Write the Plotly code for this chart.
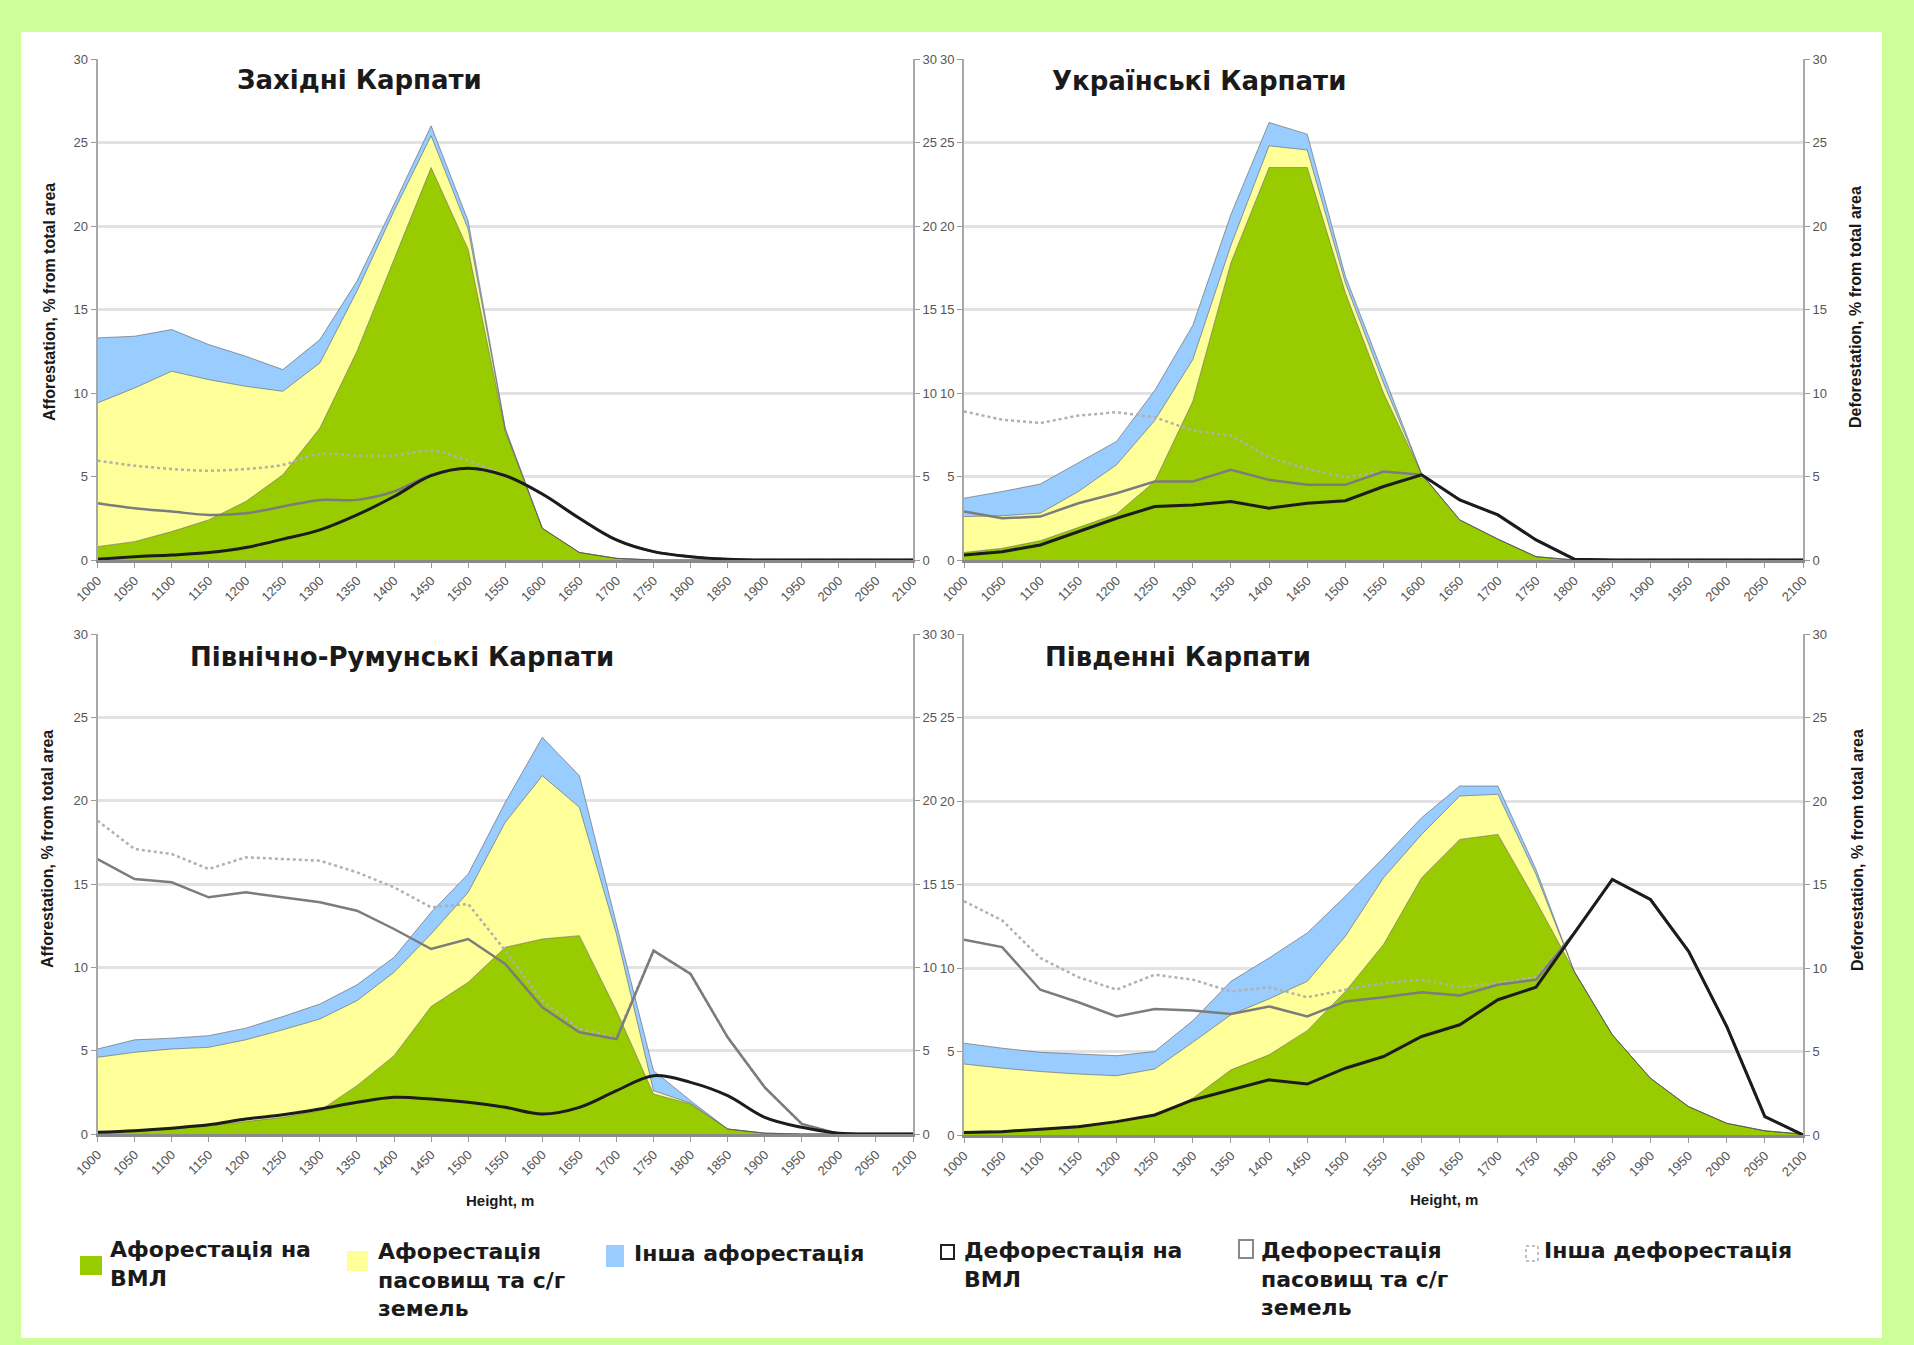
import plotly.graph_objects as go

W, H = 1914, 1345

# ---------------- data ----------------
heights = [1000, 1050, 1100, 1150, 1200, 1250, 1300, 1350, 1400, 1450, 1500, 1550,
           1600, 1650, 1700, 1750, 1800, 1850, 1900, 1950, 2000, 2050, 2100]
tick_labels = [str(h) for h in heights]

panel_titles = ["Західні Карпати", "Українські Карпати",
                "Північно-Румунські Карпати", "Південні Карпати"]

series_names = ["Афорестація на ВМЛ", "Афорестація пасовищ та с/г земель", "Інша афорестація",
                "Дефорестація на ВМЛ", "Дефорестація пасовищ та с/г земель", "Інша дефорестація"]

# cumulative tops of the stacked afforestation areas
# Західні Карпати
aff_vml_1 = [0.8, 1.1, 1.7, 2.4, 3.5, 5.1, 7.9, 12.5, 18.0, 23.5, 18.6, 7.7, 1.9, 0.45, 0.1, 0, 0, 0, 0, 0, 0, 0, 0]
aff_past_1 = [9.4, 10.3, 11.3, 10.8, 10.4, 10.1, 11.8, 16.1, 20.9, 25.4, 19.8, 7.8, 1.9, 0.45, 0.1, 0, 0, 0, 0, 0, 0, 0, 0]
aff_other_1 = [13.3, 13.4, 13.8, 12.9, 12.2, 11.4, 13.2, 16.7, 21.3, 26.0, 20.3, 7.9, 1.9, 0.45, 0.1, 0, 0, 0, 0, 0, 0, 0, 0]
def_vml_1 = [0.05, 0.2, 0.3, 0.45, 0.75, 1.25, 1.8, 2.7, 3.8, 5.05, 5.5, 5.05, 3.95, 2.5, 1.2, 0.5, 0.2, 0.05, 0, 0, 0, 0, 0]
def_past_1 = [3.4, 3.1, 2.9, 2.7, 2.8, 3.2, 3.6, 3.6, 4.1, 5.1, 5.5, 5.05, 3.95, 2.5, 1.2, 0.5, 0.2, 0.05, 0, 0, 0, 0, 0]
def_other_1 = [5.95, 5.65, 5.45, 5.35, 5.45, 5.7, 6.35, 6.25, 6.25, 6.55, 5.95, 5.05, 3.95, 2.5, 1.2, 0.5, 0.2, 0.05, 0, 0, 0, 0, 0]

# Українські Карпати
aff_vml_2 = [0.45, 0.7, 1.15, 1.95, 2.75, 4.7, 9.5, 17.8, 23.5, 23.5, 16.0, 10.0, 5.15, 2.4, 1.25, 0.2, 0, 0, 0, 0, 0, 0, 0]
aff_past_2 = [2.6, 2.65, 2.8, 4.1, 5.7, 8.35, 12.0, 18.85, 24.8, 24.55, 16.6, 10.6, 5.15, 2.4, 1.25, 0.2, 0, 0, 0, 0, 0, 0, 0]
aff_other_2 = [3.7, 4.1, 4.55, 5.8, 7.1, 10.15, 14.05, 20.7, 26.2, 25.5, 17.0, 11.1, 5.15, 2.4, 1.25, 0.2, 0, 0, 0, 0, 0, 0, 0]
def_vml_2 = [0.3, 0.5, 0.9, 1.7, 2.5, 3.2, 3.3, 3.5, 3.1, 3.4, 3.55, 4.4, 5.1, 3.6, 2.7, 1.2, 0.05, 0, 0, 0, 0, 0, 0]
def_past_2 = [2.9, 2.5, 2.6, 3.4, 4.0, 4.7, 4.7, 5.4, 4.8, 4.5, 4.5, 5.3, 5.1, 3.6, 2.7, 1.2, 0.05, 0, 0, 0, 0, 0, 0]
def_other_2 = [8.9, 8.4, 8.2, 8.65, 8.85, 8.55, 7.75, 7.45, 6.15, 5.45, 4.95, 5.3, 5.1, 3.6, 2.7, 1.2, 0.05, 0, 0, 0, 0, 0, 0]

# Північно-Румунські Карпати
aff_vml_3 = [0.1, 0.15, 0.3, 0.5, 0.75, 1.0, 1.4, 2.9, 4.7, 7.65, 9.1, 11.2, 11.7, 11.9, 7.4, 2.4, 1.8, 0.3, 0.05, 0, 0, 0, 0]
aff_past_3 = [4.6, 4.9, 5.1, 5.2, 5.65, 6.25, 6.9, 8.0, 9.7, 12.0, 14.5, 18.7, 21.5, 19.6, 12.0, 2.6, 1.85, 0.3, 0.05, 0, 0, 0, 0]
aff_other_3 = [5.1, 5.65, 5.75, 5.9, 6.35, 7.05, 7.8, 8.95, 10.6, 13.3, 15.6, 19.9, 23.8, 21.5, 12.6, 3.8, 2.0, 0.3, 0.05, 0, 0, 0, 0]
def_vml_3 = [0.1, 0.2, 0.35, 0.55, 0.9, 1.15, 1.5, 1.9, 2.2, 2.1, 1.9, 1.6, 1.2, 1.6, 2.6, 3.5, 3.1, 2.3, 1.0, 0.4, 0.05, 0, 0]
def_past_3 = [16.5, 15.3, 15.1, 14.2, 14.5, 14.2, 13.9, 13.4, 12.3, 11.1, 11.7, 10.2, 7.6, 6.1, 5.7, 11.0, 9.6, 5.8, 2.8, 0.6, 0, 0, 0]
def_other_3 = [18.8, 17.1, 16.8, 15.9, 16.6, 16.5, 16.4, 15.7, 14.8, 13.6, 13.8, 11.0, 8.0, 6.3, 5.8, 11.0, 9.6, 5.8, 2.8, 0.6, 0, 0, 0]

# Південні Карпати
aff_vml_4 = [0.2, 0.25, 0.35, 0.55, 0.8, 1.2, 2.2, 3.9, 4.8, 6.25, 8.6, 11.4, 15.4, 17.7, 18.0, 14.0, 9.8, 6.0, 3.4, 1.7, 0.7, 0.25, 0.05]
aff_past_4 = [4.25, 4.0, 3.8, 3.65, 3.55, 3.95, 5.55, 7.2, 8.15, 9.2, 11.9, 15.4, 18.0, 20.3, 20.4, 15.6, 9.8, 6.0, 3.4, 1.7, 0.7, 0.25, 0.05]
aff_other_4 = [5.5, 5.2, 4.95, 4.85, 4.75, 5.0, 6.85, 9.2, 10.6, 12.1, 14.3, 16.6, 19.0, 20.9, 20.9, 15.9, 9.8, 6.0, 3.4, 1.7, 0.7, 0.25, 0.05]
def_vml_4 = [0.15, 0.2, 0.35, 0.5, 0.8, 1.2, 2.1, 2.7, 3.3, 3.05, 4.0, 4.7, 5.9, 6.6, 8.1, 8.85, 12.1, 15.3, 14.1, 11.0, 6.5, 1.1, 0]
def_past_4 = [11.7, 11.25, 8.7, 7.95, 7.1, 7.55, 7.45, 7.25, 7.7, 7.1, 8.0, 8.25, 8.55, 8.35, 9.0, 9.3, 12.1, 15.3, 14.1, 11.0, 6.5, 1.1, 0]
def_other_4 = [14.0, 12.85, 10.6, 9.45, 8.7, 9.6, 9.3, 8.6, 8.85, 8.25, 8.7, 9.1, 9.3, 8.85, 9.1, 9.45, 12.1, 15.3, 14.1, 11.0, 6.5, 1.1, 0]

# ---------------- styling ----------------
C_GREEN = "#99cc00"
C_YELLOW = "#ffff99"
C_BLUE = "#99ccff"
C_BLACK = "#1c1c1c"
C_GRAY = "#7c7c7c"
C_DOT = "#b0b0b0"
BORDER = "rgba(80,80,80,0.55)"

TICK_FONT = dict(family="Liberation Sans, Arial, sans-serif", size=13, color="#555555")
TITLE_FONT = dict(family="DejaVu Sans, sans-serif", size=26, color="#1a1a1a")
LEG_FONT = dict(family="DejaVu Sans, sans-serif", size=22, color="#1a1a1a")
AX_FONT = dict(family="Liberation Sans, Arial, sans-serif", size=16, color="#1a1a1a")


def px(x):
    return x / W


def py(y):
    return 1 - y / H


panels = [
    dict(x0=97.5, x1=913, top=59, bot=560, title_xy=(359, 80), spline=True,
         data=(aff_vml_1, aff_past_1, aff_other_1, def_vml_1, def_past_1, def_other_1)),
    dict(x0=964, x1=1803, top=59, bot=560, title_xy=(1199, 81), spline=False,
         data=(aff_vml_2, aff_past_2, aff_other_2, def_vml_2, def_past_2, def_other_2)),
    dict(x0=97.5, x1=913, top=634, bot=1134, title_xy=(402, 657), spline=False,
         data=(aff_vml_3, aff_past_3, aff_other_3, def_vml_3, def_past_3, def_other_3)),
    dict(x0=964, x1=1803, top=634, bot=1135, title_xy=(1178, 657), spline=False,
         data=(aff_vml_4, aff_past_4, aff_other_4, def_vml_4, def_past_4, def_other_4)),
]

fig = go.Figure()
layout = dict(
    width=W, height=H, autosize=False,
    margin=dict(l=0, r=0, t=0, b=0, pad=0, autoexpand=False),
    paper_bgcolor="#ccff99", plot_bgcolor="rgba(0,0,0,0)",
    showlegend=False, shapes=[], annotations=[],
)

# white card behind the charts
layout["shapes"].append(dict(type="rect", xref="paper", yref="paper",
                             x0=px(21), x1=px(1882), y0=py(1338), y1=py(32),
                             fillcolor="white", line=dict(width=0), layer="below"))

for k, p in enumerate(panels, start=1):
    xa = "x" if k == 1 else f"x{k}"
    yl_n = 2 * k - 1
    yr_n = 2 * k
    yl = "y" if yl_n == 1 else f"y{yl_n}"
    yr = f"y{yr_n}"
    g, yel, b, dv, dp, do = p["data"]

    fig.add_trace(go.Scatter(x=heights, y=g, xaxis=xa, yaxis=yl, mode="lines", fill="tozeroy",
                             fillcolor=C_GREEN, line=dict(color=BORDER, width=1),
                             name=series_names[0], hoverinfo="skip"))
    fig.add_trace(go.Scatter(x=heights, y=yel, xaxis=xa, yaxis=yl, mode="lines", fill="tonexty",
                             fillcolor=C_YELLOW, line=dict(color=BORDER, width=1),
                             name=series_names[1], hoverinfo="skip"))
    fig.add_trace(go.Scatter(x=heights, y=b, xaxis=xa, yaxis=yl, mode="lines", fill="tonexty",
                             fillcolor=C_BLUE, line=dict(color=BORDER, width=1),
                             name=series_names[2], hoverinfo="skip"))
    shape = "spline" if p["spline"] else "linear"
    fig.add_trace(go.Scatter(x=heights, y=do, xaxis=xa, yaxis=yr, mode="lines",
                             line=dict(color=C_DOT, width=2.5, dash="dot", shape=shape),
                             name=series_names[5]))
    fig.add_trace(go.Scatter(x=heights, y=dp, xaxis=xa, yaxis=yr, mode="lines",
                             line=dict(color=C_GRAY, width=2.5, shape=shape),
                             name=series_names[4]))
    fig.add_trace(go.Scatter(x=heights, y=dv, xaxis=xa, yaxis=yr, mode="lines",
                             line=dict(color=C_BLACK, width=3,
                                       shape="spline" if (p["spline"] or k == 3) else "linear"),
                             name=series_names[3]))

    xkey = "xaxis" if k == 1 else f"xaxis{k}"
    ylkey = "yaxis" if yl_n == 1 else f"yaxis{yl_n}"
    yrkey = f"yaxis{yr_n}"
    layout[xkey] = dict(domain=[px(p["x0"]), px(p["x1"])], anchor=yl, range=[1000, 2100],
                        tickmode="array", tickvals=heights, ticktext=tick_labels, tickangle=-45,
                        tickfont=TICK_FONT, ticks="outside", ticklen=5, tickcolor="#9a9a9a",
                        showline=True, linecolor="#8a8a8a", linewidth=3, automargin=False,
                        showgrid=False, zeroline=False, fixedrange=True)
    layout[ylkey] = dict(domain=[py(p["bot"]), py(p["top"])], anchor=xa, range=[0, 30],
                         tickmode="array", tickvals=[0, 5, 10, 15, 20, 25, 30],
                         tickfont=TICK_FONT, ticks="outside", ticklen=5, tickcolor="#9a9a9a",
                         showline=True, linecolor="#a8a8a8", linewidth=2, automargin=False,
                         showgrid=True, gridcolor="#e2e2e2", gridwidth=2.5, zeroline=False)
    layout[yrkey] = dict(overlaying=yl, side="right", anchor=xa, range=[0, 30],
                         tickmode="array", tickvals=[0, 5, 10, 15, 20, 25, 30],
                         tickfont=TICK_FONT, ticks="outside", ticklen=5, tickcolor="#9a9a9a",
                         showline=True, linecolor="#a8a8a8", linewidth=2, automargin=False,
                         showgrid=False, zeroline=False)

    tx, ty = p["title_xy"]
    layout["annotations"].append(dict(text=f"<b>{panel_titles[k-1]}</b>", xref="paper", yref="paper",
                                      x=px(tx), y=py(ty), xanchor="center", yanchor="middle",
                                      showarrow=False, font=TITLE_FONT))

# axis titles
for (x, y, ang, txt) in [(49, 302, -90, "Afforestation, % from total area"),
                         (47, 849, -90, "Afforestation, % from total area"),
                         (1855, 307, -90, "Deforestation, % from total area"),
                         (1857, 850, -90, "Deforestation, % from total area")]:
    layout["annotations"].append(dict(text=f"<b>{txt}</b>", xref="paper", yref="paper",
                                      x=px(x), y=py(y), xanchor="center", yanchor="middle",
                                      textangle=ang, showarrow=False, font=AX_FONT))
for (x, y) in [(500, 1200), (1444, 1199)]:
    layout["annotations"].append(dict(text="<b>Height, m</b>", xref="paper", yref="paper",
                                      x=px(x), y=py(y), xanchor="center", yanchor="middle",
                                      showarrow=False,
                                      font=dict(family="Liberation Sans, Arial, sans-serif",
                                                size=15, color="#1a1a1a")))

# legend (manual)
legend_items = [
    # swatch box (x0, y0, x1, y1), fill, outline, dash, text x, text top, text
    ((81, 1257, 101, 1274), C_GREEN, C_GREEN, "solid", 108, 1235, "Афорестація на<br>ВМЛ"),
    ((348, 1252, 367, 1270), C_YELLOW, C_YELLOW, "solid", 376, 1237, "Афорестація<br>пасовищ та с/г<br>земель"),
    ((607, 1246, 623, 1266), C_BLUE, C_BLUE, "solid", 632, 1239, "Інша афорестація"),
    ((941, 1245, 954, 1259), "white", "#222222", "solid", 962, 1236, "Дефорестація на<br>ВМЛ"),
    ((1239, 1240, 1253, 1258), "white", "#888888", "solid", 1259, 1236, "Дефорестація<br>пасовищ та с/г<br>земель"),
    ((1526, 1246, 1538, 1261), "white", "#c0c0c0", "dot", 1542, 1236, "Інша дефорестація"),
]
for (box, fill, outline, dash, tx, tty, txt) in legend_items:
    x0, y0, x1, y1 = box
    layout["shapes"].append(dict(type="rect", xref="paper", yref="paper",
                                 x0=px(x0), x1=px(x1), y0=py(y1), y1=py(y0),
                                 fillcolor=fill, line=dict(color=outline, width=2, dash=dash)))
    layout["annotations"].append(dict(text=f"<b>{txt}</b>", xref="paper", yref="paper",
                                      x=px(tx), y=py(tty), xanchor="left", yanchor="top", align="left",
                                      showarrow=False, font=LEG_FONT))

fig.update_layout(**layout)
fig.write_html("out.html", include_plotlyjs=True, full_html=True,
               config={"displayModeBar": False},
               post_script="document.body.style.margin='0';document.body.style.overflow='hidden';")
